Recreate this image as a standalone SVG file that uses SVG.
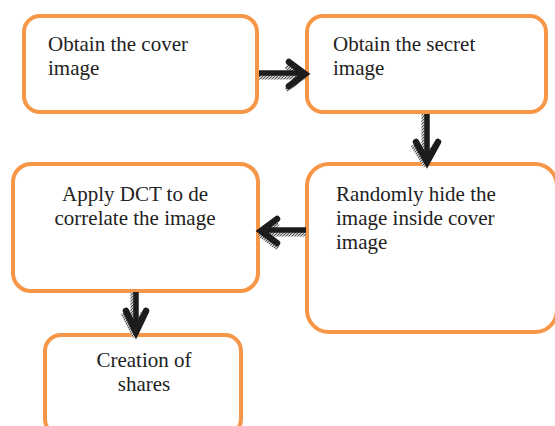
<svg xmlns="http://www.w3.org/2000/svg" width="555" height="426" viewBox="0 0 555 426">
<style>
.box{fill:#fff;stroke:#F79646;stroke-width:4}
.t{font-family:'Liberation Serif','Times New Roman',serif;font-size:21px;fill:#222}
.c{text-anchor:middle}
.ln{fill:none;stroke:#1c1c1c;stroke-width:5.5;stroke-linecap:butt;stroke-linejoin:miter}
.hd{fill:none;stroke:#1c1c1c;stroke-width:6.5;stroke-linecap:round;stroke-linejoin:miter}
.sh{fill:none;stroke:url(#hatch);stroke-width:5}
</style>
<defs>
<pattern id="hatch" width="3" height="3" patternUnits="userSpaceOnUse">
<rect width="3" height="3" fill="#c4c4c4"/>
<path d="M0,3 L3,0" stroke="#555" stroke-width="1"/>
</pattern>
</defs>
<rect width="555" height="426" fill="#fff"/>
<g id="n1"><rect class="box" x="24" y="16" width="233" height="96" rx="16"/>
<text class="t" x="48" y="51">Obtain the cover</text><text class="t" x="48" y="75">image</text></g>
<g id="n2"><rect class="box" x="307" y="16" width="239" height="96" rx="16"/>
<text class="t" x="333" y="51">Obtain the secret</text><text class="t" x="333" y="75">image</text></g>
<g id="n3"><rect class="box" x="13" y="164" width="245" height="127" rx="18"/>
<text class="t c" x="135" y="201">Apply DCT to de</text><text class="t c" x="135" y="225">correlate the image</text></g>
<g id="n4"><rect class="box" x="307" y="164" width="250" height="168" rx="22"/>
<text class="t" x="336" y="201">Randomly hide the</text><text class="t" x="336" y="225">image inside cover</text><text class="t" x="336" y="249">image</text></g>
<g id="n5"><rect class="box" x="45" y="335" width="196" height="100" rx="16"/>
<text class="t c" x="144" y="367">Creation of</text><text class="t c" x="144" y="391">shares</text></g>
<g id="connectors">
<path class="sh" d="M259,77 H300 M286,66 L302,78 L286,90"/>
<path class="ln" d="M259,73 H302"/>
<path class="hd" d="M289,62 L305,74 L289,86"/>
<path class="sh" d="M424,114 V160 M413,145 L424,163 L435,145"/>
<path class="ln" d="M427,114 V161"/>
<path class="hd" d="M416,142 L427,162 L438,142"/>
<path class="sh" d="M306,234 H264 M278,223 L262,236 L278,248"/>
<path class="ln" d="M306,230 H262"/>
<path class="hd" d="M277,219 L261,231 L277,243"/>
<path class="sh" d="M133,292 V331 M123,313 L133,333 L143,313"/>
<path class="ln" d="M136,292 V332"/>
<path class="hd" d="M126,311 L136,332 L146,311"/>
</g>
</svg>
